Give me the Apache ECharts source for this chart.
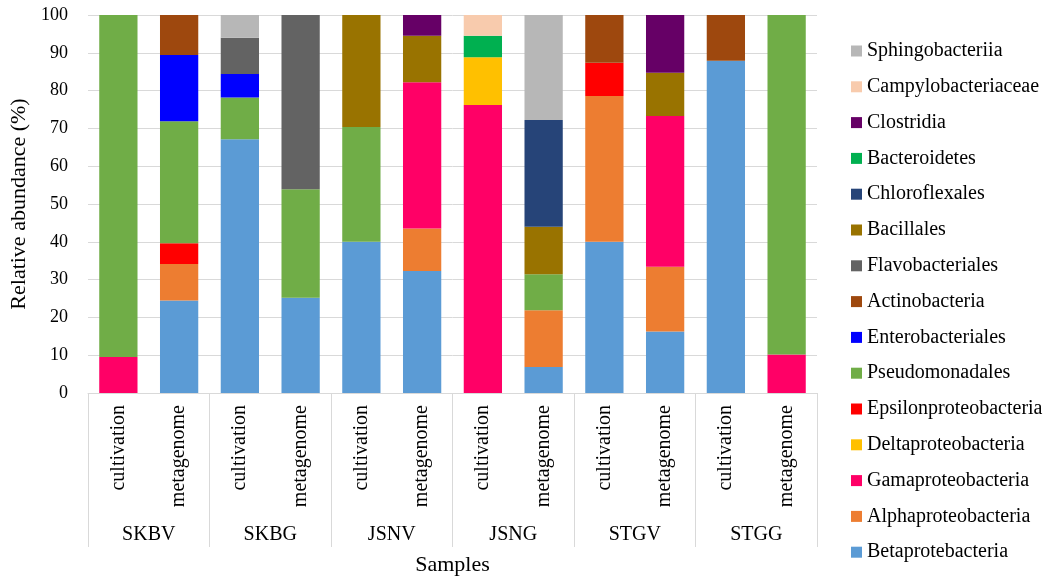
<!DOCTYPE html>
<html>
<head>
<meta charset="utf-8">
<script src="https://cdn.jsdelivr.net/npm/echarts@6/dist/echarts.min.js"></script>
<style>html,body{margin:0;padding:0;background:#fff}#c{width:1046px;height:579px}</style>
</head>
<body>
<div id="c"></div>
<script>
// Categories
var samples = ['cultivation','metagenome','cultivation','metagenome','cultivation','metagenome','cultivation','metagenome','cultivation','metagenome','cultivation','metagenome'];
var groups = ['SKBV','SKBG','JSNV','JSNG','STGV','STGG'];
var yTicks = [0,10,20,30,40,50,60,70,80,90,100];

// Series values (%), order of samples above
var Betaprotebacteria     = [0, 24.5, 67.1, 25.2, 40.0, 32.3, 0, 6.9, 40.0, 16.3, 87.9, 0];
var Alphaproteobacteria   = [0, 9.6, 0, 0, 0, 11.2, 0, 15.0, 38.6, 17.1, 0, 0];
var Gamaproteobacteria    = [9.5, 0, 0, 0, 0, 38.7, 76.2, 0, 0, 39.9, 0, 10.2];
var Deltaproteobacteria   = [0, 0, 0, 0, 0, 0, 12.6, 0, 0, 0, 0, 0];
var Epsilonproteobacteria = [0, 5.5, 0, 0, 0, 0, 0, 0, 8.8, 0, 0, 0];
var Pseudomonadales       = [90.5, 32.3, 11.1, 28.7, 30.4, 0, 0, 9.5, 0, 0, 0, 89.8];
var Enterobacteriales     = [0, 17.5, 6.2, 0, 0, 0, 0, 0, 0, 0, 0, 0];
var Actinobacteria        = [0, 10.6, 0, 0, 0, 0, 0, 0, 12.6, 0, 12.1, 0];
var Flavobacteriales      = [0, 0, 9.6, 46.1, 0, 0, 0, 0, 0, 0, 0, 0];
var Bacillales            = [0, 0, 0, 0, 29.6, 12.3, 0, 12.6, 0, 11.4, 0, 0];
var Chloroflexales        = [0, 0, 0, 0, 0, 0, 0, 28.2, 0, 0, 0, 0];
var Bacteroidetes         = [0, 0, 0, 0, 0, 0, 5.7, 0, 0, 0, 0, 0];
var Clostridia            = [0, 0, 0, 0, 0, 5.5, 0, 0, 0, 15.3, 0, 0];
var Campylobacteriaceae   = [0, 0, 0, 0, 0, 0, 5.5, 0, 0, 0, 0, 0];
var Sphingobacteriia      = [0, 0, 6.0, 0, 0, 0, 0, 27.8, 0, 0, 0, 0];

var seriesNames = ['Betaprotebacteria','Alphaproteobacteria','Gamaproteobacteria','Deltaproteobacteria','Epsilonproteobacteria','Pseudomonadales','Enterobacteriales','Actinobacteria','Flavobacteriales','Bacillales','Chloroflexales','Bacteroidetes','Clostridia','Campylobacteriaceae','Sphingobacteriia'];
var seriesData = [Betaprotebacteria,Alphaproteobacteria,Gamaproteobacteria,Deltaproteobacteria,Epsilonproteobacteria,Pseudomonadales,Enterobacteriales,Actinobacteria,Flavobacteriales,Bacillales,Chloroflexales,Bacteroidetes,Clostridia,Campylobacteriaceae,Sphingobacteriia];
var seriesColors = ['#5B9BD5','#ED7D31','#FF0066','#FFC000','#FF0000','#70AD47','#0000FF','#9E480E','#636363','#997300','#264478','#00B050','#660066','#F8CBAD','#B7B7B7'];

var serif = '"Liberation Serif", "DejaVu Serif", serif';

var series = seriesNames.map(function(n, i){
  return {
    name: n, type: 'bar', stack: 'total', xAxisIndex: 0,
    barCategoryGap: '37%',
    itemStyle: {color: seriesColors[i]},
    data: seriesData[i].map(function(v){ return v === 0 ? null : v; })
  };
});

var chart = echarts.init(document.getElementById('c'), null, {renderer: 'canvas'});
chart.setOption({
  animation: false,
  grid: {left: 88, right: 229, top: 15, bottom: 186, containLabel: false, outerBoundsMode: 'none'},
  legend: {
    orient: 'vertical', left: 846, top: 35,
    data: seriesNames.slice().reverse(),
    itemWidth: 11, itemHeight: 11, itemGap: 13.8,
    icon: 'rect',
    textStyle: {fontFamily: serif, fontSize: 20, color: '#000', lineHeight: 22}
  },
  xAxis: [
    {
      type: 'category', data: samples, position: 'bottom',
      axisLine: {show: true, lineStyle: {color: '#D9D9D9'}},
      axisTick: {show: false},
      axisLabel: {rotate: 90, interval: 0, margin: 12, fontFamily: serif, fontSize: 20, color: '#000'}
    },
    {
      type: 'category', data: groups, position: 'bottom',
      axisLine: {show: false},
      axisTick: {show: true, length: 154, interval: 0, lineStyle: {color: '#D9D9D9'}},
      axisLabel: {interval: 0, margin: 132, fontFamily: serif, fontSize: 20, color: '#000'},
      name: 'Samples', nameLocation: 'middle', nameGap: 161,
      nameTextStyle: {fontFamily: serif, fontSize: 22, color: '#000'}
    }
  ],
  yAxis: {
    type: 'value', min: yTicks[0], max: yTicks[yTicks.length-1], interval: 10,
    axisLine: {show: false}, axisTick: {show: false},
    splitLine: {lineStyle: {color: '#D9D9D9'}},
    axisLabel: {fontFamily: serif, fontSize: 18, color: '#000', margin: 20},
    name: 'Relative abundance (%)', nameLocation: 'middle', nameGap: 51,
    nameTextStyle: {fontFamily: serif, fontSize: 22, color: '#000'}
  },
  series: series
});
</script>
</body>
</html>
